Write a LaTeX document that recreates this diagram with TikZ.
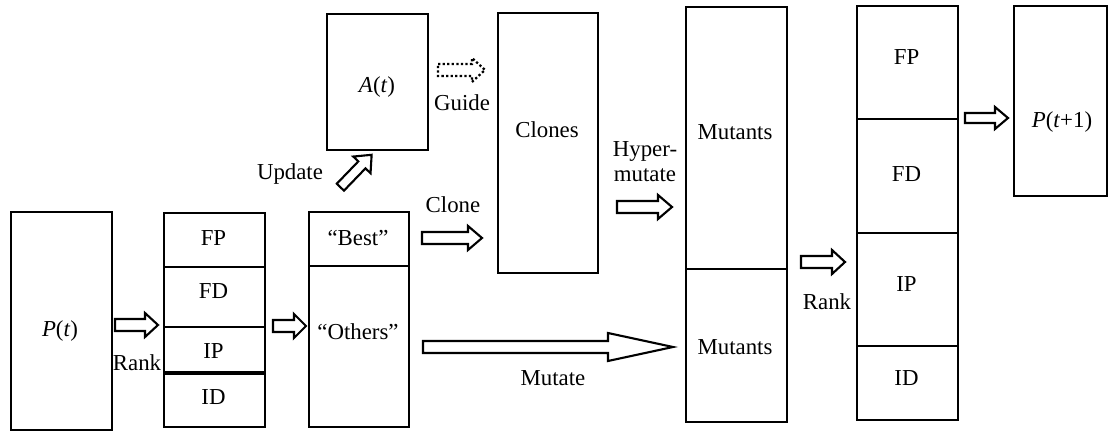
\documentclass[tikz,border=0pt]{standalone}
\usepackage{fontspec}
\setmainfont{Liberation Serif}
\newcommand\bx[5]{\node[box, anchor=north west, minimum width={(#4-#2)*0.02cm}, minimum height={(#5-#3)*0.02cm}] (#1) at (#2,#3) {};}
\newcommand\fatarr[8]{%
\begin{scope}[shift={(#2,#3)}, rotate=#4]
\draw[#1] ({-(#5)/2},-#6) -- ({(#5)/2-(#8)},-#6) -- ({(#5)/2-(#8)},-#7) -- ({(#5)/2},0) -- ({(#5)/2-(#8)},#7) -- ({(#5)/2-(#8)},#6) -- ({-(#5)/2},#6) -- cycle;
\end{scope}}
\begin{document}
\begin{tikzpicture}[x=0.02cm, y=-0.02cm, font=\fontsize{13}{15}\selectfont,
  box/.style={draw, line width=1.15pt, inner sep=0pt},
  lbl/.style={inner sep=0pt},
  fat/.style={draw, line width=1.2pt, fill=white, line join=miter},
  dotfat/.style={draw, line width=1.3pt, dash pattern=on 1.3pt off 1.3pt, line join=miter}]
\useasboundingbox (0,0) rectangle (1109,432);
% boxes
\bx{P}{10}{211}{111}{429}
\bx{lFP}{163}{212}{264}{266}
\bx{lFD}{163}{266}{264}{326}
\bx{lIP}{163}{326}{264}{371}
\bx{lID}{163}{371}{264}{426}
\draw[line width=2pt] (lIP.south west) -- (lIP.south east);
\bx{best}{308}{211}{408}{265}
\bx{others}{308}{265}{408}{426}
\bx{A}{326}{13}{427}{149}
\bx{clones}{497}{12}{597}{272}
\bx{mutU}{685}{6}{786}{268}
\bx{mutL}{685}{268}{786}{421}
\bx{rFP}{856}{5}{957}{118}
\bx{rFD}{856}{118}{957}{232}
\bx{rIP}{856}{232}{957}{345}
\bx{rID}{856}{345}{957}{419}
\bx{Pn}{1013}{5}{1106}{195}
% box labels
\node[lbl] (lFPl) at (213.5,238) {FP};
\node[lbl] (lFDl) at (213.5,291) {FD};
\node[lbl] (lIPl) at (213.5,351) {IP};
\node[lbl] (lIDl) at (213.5,397) {ID};
\node[lbl] (rFPl) at (906.5,57) {FP};
\node[lbl] (rFDl) at (906.5,174) {FD};
\node[lbl] (rIPl) at (906.5,284) {IP};
\node[lbl] (rIDl) at (906.5,378) {ID};
\node[lbl] (Bl) at (358,238) {“Best”};
\node[lbl] (Ol) at (358,332) {“Others”};
\node[lbl] (Pl) at (60,331) {\textit{P}(\textit{t})};
\node[lbl] (Al) at (377,87) {\textit{A}(\textit{t})};
\node[lbl] (Cl) at (547,130) {Clones};
\node[lbl] (Mu) at (735,132) {Mutants};
\node[lbl] (Ml) at (735,347) {Mutants};
\node[lbl] (Pnl) at (1062,122) {\textit{P}(\textit{t}+1)};
% arrow labels
\node[lbl] (rank1) at (137,363) {Rank};
\node[lbl] (upd) at (290,174) {Update};
\node[lbl] (guide) at (462,103) {Guide};
\node[lbl] (clone) at (453,205) {Clone};
\node[lbl, align=center, font=\fontsize{13}{14.2}\selectfont] (hyp) at (645,162) {Hyper-\\mutate};
\node[lbl] (mut) at (553,378) {Mutate};
\node[lbl] (rank2) at (827,302) {Rank};
% hollow arrows
\fatarr{fat}{136.5}{325}{0}{43}{6}{12}{13}
\fatarr{fat}{289.5}{326}{0}{33}{6}{12}{12}
\fatarr{fat}{356}{171}{46}{45}{5}{12}{14}
\fatarr{dotfat}{461.5}{70}{0}{47}{6}{12}{13}
\fatarr{fat}{452}{238}{0}{60}{6}{12}{14}
\fatarr{fat}{548}{347}{0}{250}{6}{14}{65}
\fatarr{fat}{644.5}{207}{0}{55}{6}{12}{14}
\fatarr{fat}{823}{262}{0}{44}{6}{12}{13}
\fatarr{fat}{986.5}{118}{0}{43}{5}{11}{13}
\end{tikzpicture}
\end{document}
